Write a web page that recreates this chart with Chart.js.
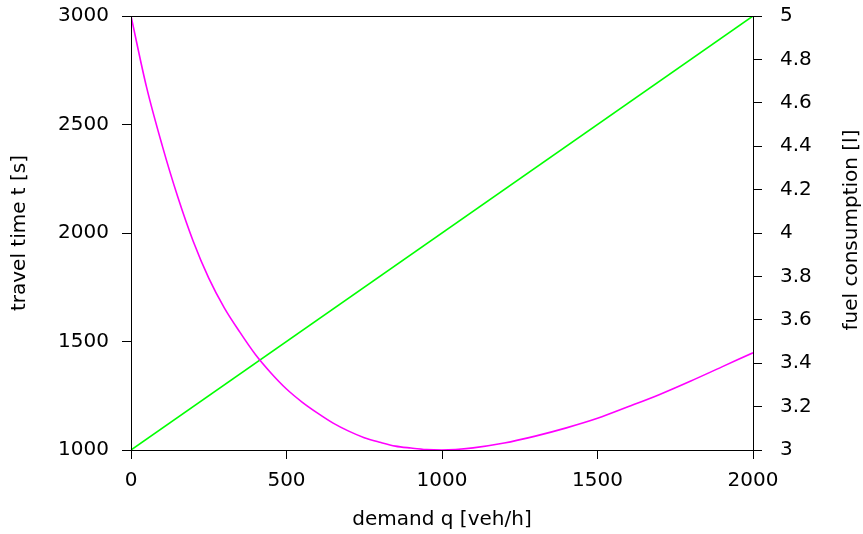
<!DOCTYPE html>
<html>
<head>
<meta charset="utf-8">
<script src="https://cdn.jsdelivr.net/npm/chart.js@4/dist/chart.umd.min.js"></script>
<style>
  html, body { margin: 0; padding: 0; background: #fff; }
  #wrap { width: 863px; height: 534px; }
</style>
</head>
<body>
<div id="wrap"><canvas id="chart" width="863" height="534"></canvas></div>
<script>
// Demand samples (veh/h) - denser where the curve bends most
const demand = [0, 50, 100, 150, 200, 250, 300, 350, 400, 450, 500,
                550, 600, 650, 700, 750, 800, 850, 900, 950, 1000,
                1100, 1200, 1300, 1400, 1500, 1600, 1700, 1800, 1900, 2000];
// Fuel consumption [l] (right axis)
const fuel = [5.00, 4.672, 4.405, 4.168, 3.962, 3.792, 3.655, 3.543, 3.44, 3.355, 3.281,
              3.221, 3.170, 3.124, 3.087, 3.057, 3.036, 3.018, 3.009, 3.002, 3.00,
              3.010, 3.032, 3.064, 3.102, 3.146, 3.200, 3.256, 3.318, 3.383, 3.448];
// Travel time [s], straight green line (left axis)
const timeDemand = [0, 2000];
const travelTime = [1000, 3000];

const xTicks = [0, 500, 1000, 1500, 2000];
const leftTicks = [1000, 1500, 2000, 2500, 3000];
const rightTicks = [3, 3.2, 3.4, 3.6, 3.8, 4, 4.2, 4.4, 4.6, 4.8, 5];

const FONT = { family: "'DejaVu Sans', sans-serif", size: 20 };

// box around plot area + right-hand label written bottom-to-top like the left one
const frame = {
  id: 'frame',
  afterDraw(chart) {
    const { ctx, chartArea: a } = chart;
    ctx.save();
    ctx.strokeStyle = '#000';
    ctx.lineWidth = 1;
    ctx.strokeRect(a.left + 0.5, a.top + 0.5, a.right - a.left, a.bottom - a.top);
    ctx.translate(852, (a.top + a.bottom) / 2 - 3);
    ctx.rotate(-Math.PI / 2);
    ctx.font = FONT.size + "px 'DejaVu Sans', sans-serif";
    ctx.fillStyle = '#000';
    ctx.textAlign = 'center';
    ctx.textBaseline = 'middle';
    ctx.fillText('fuel consumption [l]', 0, 0);
    ctx.restore();
  }
};

const tickGrid = { display: true, drawOnChartArea: false, drawTicks: true, tickLength: 9, color: '#000', lineWidth: 1 };
const plain = v => String(+Number(v).toFixed(1));
// fixed axis sizes so the plot box lands where the reference has it
const fixWidth = w => s => { s.width = w; s.paddingTop = 0; s.paddingBottom = 0; };

new Chart(document.getElementById('chart'), {
  type: 'line',
  data: {
    datasets: [{
      label: 'fuel consumption',
      data: demand.map((q, i) => ({ x: q, y: fuel[i] })),
      yAxisID: 'y2',
      borderColor: '#ff00ff',
      borderWidth: 1.6,
      pointRadius: 0,
      cubicInterpolationMode: 'monotone',
      fill: false
    }, {
      label: 'travel time',
      data: timeDemand.map((q, i) => ({ x: q, y: travelTime[i] })),
      yAxisID: 'y',
      borderColor: '#00ff00',
      borderWidth: 1.6,
      pointRadius: 0,
      fill: false
    }]
  },
  options: {
    responsive: false,
    animation: false,
    layout: { padding: { top: 16, left: 0, right: 0, bottom: 0 } },
    plugins: { legend: { display: false }, tooltip: { enabled: false } },
    scales: {
      x: {
        type: 'linear', min: 0, max: 2000,
        afterFit: s => { s.height = 84; },
        afterBuildTicks: s => { s.ticks = xTicks.map(v => ({ value: v })); },
        grid: tickGrid,
        border: { display: false },
        ticks: { font: FONT, color: '#000', padding: 10, maxRotation: 0, callback: plain },
        title: { display: true, text: 'demand q [veh/h]', font: FONT, color: '#000', padding: { top: 0, bottom: 2 } }
      },
      y: {
        position: 'left', min: 1000, max: 3000,
        afterFit: fixWidth(131),
        afterBuildTicks: s => { s.ticks = leftTicks.map(v => ({ value: v })); },
        grid: tickGrid,
        border: { display: false },
        ticks: { font: FONT, color: '#000', padding: 13, callback: plain },
        title: { display: true, text: 'travel time t [s]', font: FONT, color: '#000', padding: { top: 8, bottom: 0 } }
      },
      y2: {
        position: 'right', min: 3, max: 5,
        afterFit: fixWidth(110),
        afterBuildTicks: s => { s.ticks = rightTicks.map(v => ({ value: v })); },
        grid: tickGrid,
        border: { display: false },
        ticks: { font: FONT, color: '#000', padding: 18, callback: plain }
      }
    }
  },
  plugins: [frame]
});
</script>
</body>
</html>
